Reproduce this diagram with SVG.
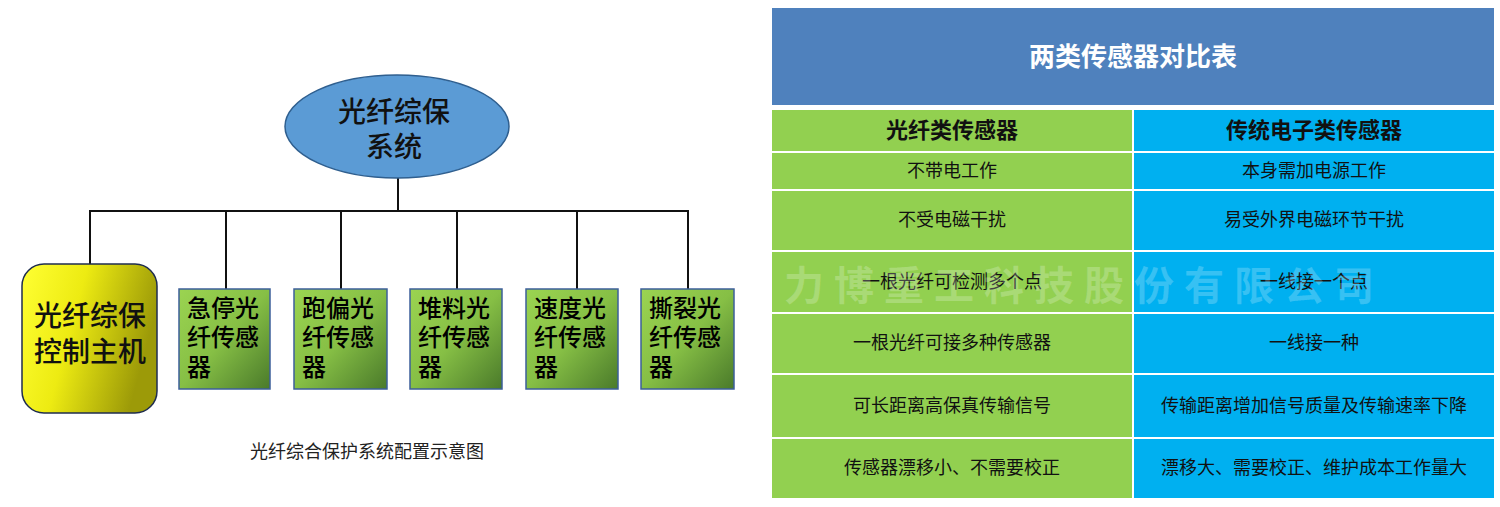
<svg xmlns="http://www.w3.org/2000/svg" width="1500" height="507" viewBox="0 0 1500 507">
<defs>
<linearGradient id="gGreen" x1="0" y1="0" x2="1" y2="1">
<stop offset="0" stop-color="#9BD451"/>
<stop offset="0.5" stop-color="#86BF45"/>
<stop offset="1" stop-color="#4A7A2A"/>
</linearGradient>
<linearGradient id="gYellow" x1="0" y1="0" x2="1" y2="0.3">
<stop offset="0" stop-color="#FFFF33"/>
<stop offset="0.45" stop-color="#EDEB12"/>
<stop offset="1" stop-color="#9C9A08"/>
</linearGradient>
<style>
.cn{font-family:"Noto Sans CJK SC","Noto Sans",sans-serif;}
.node{font-size:24px;font-weight:500;fill:#000;}
.big{font-size:28px;font-weight:500;fill:#111;}
.sensor{fill:url(#gGreen);stroke:#3D5F9A;stroke-width:1.5;}
.wire{stroke:#111;stroke-width:2;fill:none;}
.cellG{fill:#92D050;}
.cellB{fill:#00B0F0;}
.body{font-size:18px;fill:#111;text-anchor:middle;}
.colh{font-size:22px;font-weight:bold;fill:#111;text-anchor:middle;}
.wm{font-size:40px;font-weight:bold;fill:#fff;fill-opacity:0.22;letter-spacing:10px;}
</style>
</defs>
<rect x="0" y="0" width="1500" height="507" fill="#fff"/>

<g id="connectors">
<line class="wire" x1="398" y1="178" x2="398" y2="211"/>
<line class="wire" x1="89" y1="211" x2="689" y2="211"/>
<line class="wire" x1="90" y1="211" x2="90" y2="264"/>
<line class="wire" x1="226" y1="211" x2="226" y2="289"/>
<line class="wire" x1="341" y1="211" x2="341" y2="289"/>
<line class="wire" x1="457" y1="211" x2="457" y2="289"/>
<line class="wire" x1="577" y1="211" x2="577" y2="289"/>
<line class="wire" x1="688" y1="211" x2="688" y2="289"/>
</g>

<g id="node-system">
<ellipse cx="397" cy="126.5" rx="112" ry="51.5" fill="#5B9BD5" stroke="#2F5F8F" stroke-width="1.5"/>
<text class="cn big" x="394" y="122" text-anchor="middle">光纤综保</text>
<text class="cn big" x="394" y="157" text-anchor="middle">系统</text>
</g>

<g id="node-host">
<rect x="22" y="264" width="135" height="149" rx="22" ry="22" fill="url(#gYellow)" stroke="#1F2D4F" stroke-width="1.5"/>
<text class="cn big" x="90" y="326" text-anchor="middle">光纤综保</text>
<text class="cn big" x="90" y="362" text-anchor="middle">控制主机</text>
</g>

<g id="node-s1">
<rect class="sensor" x="179" y="289" width="91" height="100"/>
<text class="cn node" x="187" y="317">急停光</text>
<text class="cn node" x="187" y="346">纤传感</text>
<text class="cn node" x="187" y="376">器</text>
</g>
<g id="node-s2">
<rect class="sensor" x="294" y="289" width="93" height="100"/>
<text class="cn node" x="302" y="317">跑偏光</text>
<text class="cn node" x="302" y="346">纤传感</text>
<text class="cn node" x="302" y="376">器</text>
</g>
<g id="node-s3">
<rect class="sensor" x="410" y="289" width="92" height="100"/>
<text class="cn node" x="418" y="317">堆料光</text>
<text class="cn node" x="418" y="346">纤传感</text>
<text class="cn node" x="418" y="376">器</text>
</g>
<g id="node-s4">
<rect class="sensor" x="526" y="289" width="92" height="100"/>
<text class="cn node" x="534" y="317">速度光</text>
<text class="cn node" x="534" y="346">纤传感</text>
<text class="cn node" x="534" y="376">器</text>
</g>
<g id="node-s5">
<rect class="sensor" x="641" y="289" width="93" height="100"/>
<text class="cn node" x="649" y="317">撕裂光</text>
<text class="cn node" x="649" y="346">纤传感</text>
<text class="cn node" x="649" y="376">器</text>
</g>

<text class="cn" x="367" y="458" font-size="18" fill="#222" text-anchor="middle">光纤综合保护系统配置示意图</text>

<g id="table">
<rect x="772" y="8" width="722" height="97" fill="#4F81BD"/>
<text class="cn" x="1133" y="66" font-size="26" font-weight="bold" fill="#fff" text-anchor="middle">两类传感器对比表</text>

<rect class="cellG" x="772" y="110" width="360" height="41"/>
<rect class="cellB" x="1134" y="110" width="360" height="41"/>
<text class="cn colh" x="952" y="138">光纤类传感器</text>
<text class="cn colh" x="1314" y="138">传统电子类传感器</text>

<rect class="cellG" x="772" y="153" width="360" height="36"/>
<rect class="cellB" x="1134" y="153" width="360" height="36"/>
<text class="cn body" x="952" y="177">不带电工作</text>
<text class="cn body" x="1314" y="177">本身需加电源工作</text>

<rect class="cellG" x="772" y="191" width="360" height="59"/>
<rect class="cellB" x="1134" y="191" width="360" height="59"/>
<text class="cn body" x="952" y="226">不受电磁干扰</text>
<text class="cn body" x="1314" y="226">易受外界电磁环节干扰</text>

<rect class="cellG" x="772" y="252" width="360" height="60"/>
<rect class="cellB" x="1134" y="252" width="360" height="60"/>
<text class="cn body" x="952" y="288">一根光纤可检测多个点</text>
<text class="cn body" x="1314" y="288">一线接一个点</text>

<rect class="cellG" x="772" y="314" width="360" height="59"/>
<rect class="cellB" x="1134" y="314" width="360" height="59"/>
<text class="cn body" x="952" y="349">一根光纤可接多种传感器</text>
<text class="cn body" x="1314" y="349">一线接一种</text>

<rect class="cellG" x="772" y="375" width="360" height="62"/>
<rect class="cellB" x="1134" y="375" width="360" height="62"/>
<text class="cn body" x="952" y="412">可长距离高保真传输信号</text>
<text class="cn body" x="1314" y="412">传输距离增加信号质量及传输速率下降</text>

<rect class="cellG" x="772" y="439" width="360" height="59"/>
<rect class="cellB" x="1134" y="439" width="360" height="59"/>
<text class="cn body" x="952" y="474">传感器漂移小、不需要校正</text>
<text class="cn body" x="1314" y="474">漂移大、需要校正、维护成本工作量大</text>
</g>

<text class="cn wm" x="784" y="300">力博重工科技股份有限公司</text>
</svg>
